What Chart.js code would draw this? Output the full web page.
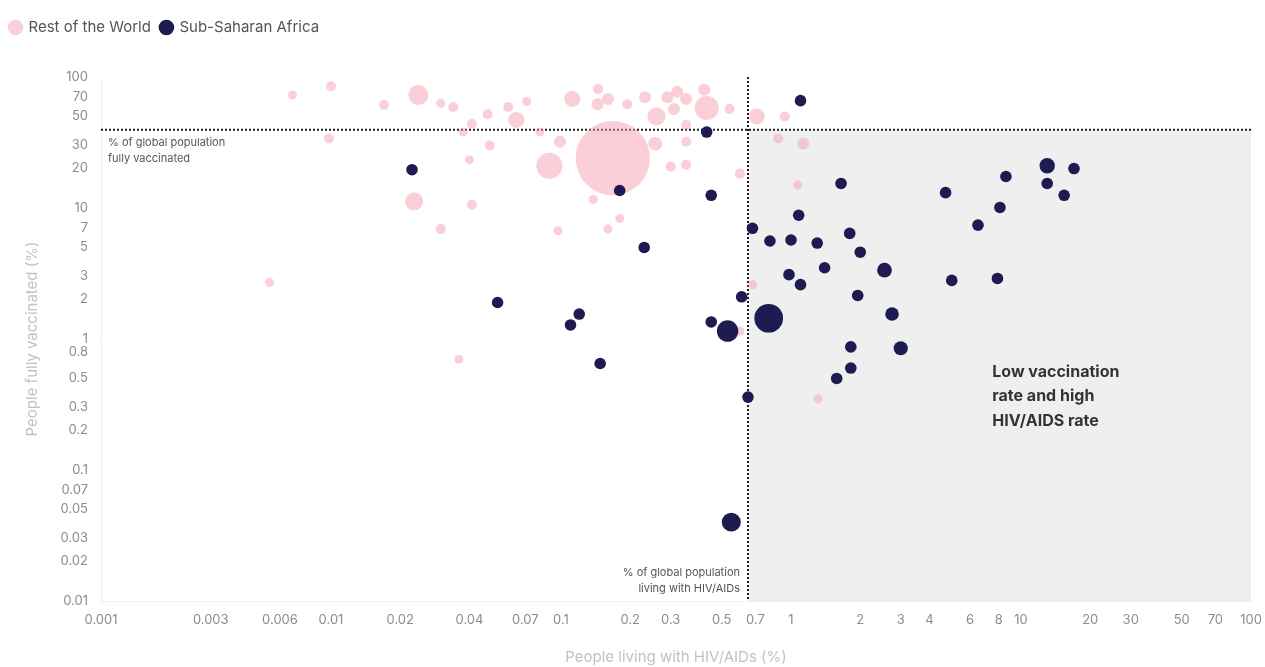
<!DOCTYPE html>
<html>
<head>
<meta charset="utf-8">
<script src="https://cdn.jsdelivr.net/npm/chart.js@4.4.1/dist/chart.umd.min.js"></script>
<style>
    html, body { margin: 0; padding: 0; background: #ffffff; }
    #wrap { position: relative; width: 1265px; height: 667px; }
</style>
</head>
<body>
<div id="wrap"><canvas id="hivChart"></canvas></div>
<script>
// Rest of the World: HIV/AIDS rate (%), fully vaccinated (%), population (millions)
const rowHiv = [0.0068, 0.01, 0.024, 0.017, 0.030, 0.034, 0.0098, 0.0375, 0.023, 0.030,
    0.040, 0.041, 0.041, 0.048, 0.049, 0.059, 0.064, 0.071, 0.081, 0.089,
    0.099, 0.112, 0.145, 0.144, 0.16, 0.194, 0.232, 0.26, 0.168, 0.138,
    0.18, 0.16, 0.097, 0.29, 0.32, 0.31, 0.35, 0.42, 0.43, 0.54,
    0.35, 0.257, 0.35, 0.30, 0.35, 0.60, 0.71, 0.94, 0.88, 1.13,
    1.07, 0.0054, 0.036, 0.68, 0.60, 1.31];
const rowVax = [73, 85, 73, 61, 63, 59, 34, 38, 11.2, 6.9,
    23.4, 10.6, 44, 52, 30, 59, 47, 65, 38, 21,
    32, 68, 81, 62, 68, 62, 70, 50, 24, 11.6,
    8.3, 6.9, 6.7, 70, 77, 57, 68, 80, 58, 57,
    43, 31, 32, 20.7, 21.4, 18.3, 50, 50, 34, 31,
    15, 2.7, 0.7, 2.6, 1.15, 0.35];
const rowPop = [10, 25, 100, 25, 10, 25, 25, 10, 81, 25,
    10, 25, 25, 25, 25, 25, 64, 10, 10, 170,
    36, 64, 25, 36, 36, 25, 36, 81, 1380, 10,
    10, 10, 10, 36, 36, 36, 36, 36, 144, 25,
    25, 49, 25, 25, 25, 25, 64, 25, 25, 36,
    10, 10, 10, 10, 10, 10];

// Sub-Saharan Africa
const ssaHiv = [1.1, 0.43, 0.0225, 0.18, 0.45, 1.08, 0.68, 0.23, 0.81, 1.0,
    1.3, 0.98, 1.1, 0.61, 0.053, 0.12, 0.11, 0.45, 0.53, 0.80,
    13, 17, 8.6, 13, 15.4, 1.65, 4.7, 8.1, 6.5, 1.8,
    2.0, 1.4, 2.55, 5.0, 7.9, 1.95, 2.75, 1.82, 3.0, 1.82,
    1.58, 0.148, 0.65, 0.55];
const ssaVax = [66, 38, 19.6, 13.6, 12.5, 8.8, 7.0, 5.0, 5.6, 5.7,
    5.4, 3.1, 2.6, 2.1, 1.9, 1.55, 1.28, 1.35, 1.15, 1.44,
    21, 20, 17.4, 15.4, 12.5, 15.4, 13.1, 10.1, 7.4, 6.4,
    4.6, 3.5, 3.35, 2.8, 2.9, 2.15, 1.55, 0.87, 0.85, 0.6,
    0.5, 0.65, 0.36, 0.04];
const ssaPop = [1, 1.3, 0.1, 12, 2, 2.4, 1, 6, 9, 13,
    20, 8, 20, 27, 2, 12, 30, 16, 115, 206,
    59, 2.3, 2.1, 1.2, 2.5, 17, 18, 24, 13, 27,
    26, 19, 54, 6, 2.1, 19, 46, 12, 50, 5,
    8, 16, 4.8, 90];

// global reference values
const globalHiv = 0.65;
const globalVax = 39.5;

const xTickLabels = ['0.001', '0.003', '0.006', '0.01', '0.02', '0.04', '0.07', '0.1', '0.2', '0.3',
    '0.5', '0.7', '1', '2', '3', '4', '6', '8', '10', '20', '30', '50', '70', '100'];
const yTickLabels = ['100', '70', '50', '30', '20', '10', '7', '5', '3', '2', '1', '0.8', '0.5',
    '0.3', '0.2', '0.1', '0.07', '0.05', '0.03', '0.02', '0.01'];

const FONT = 'Inter, "Noto Sans", sans-serif';

function toBubbles(xs, ys, pops, minR) {
    return xs.map((x, i) => ({ x: x, y: ys[i], r: Math.max(minR, Math.sqrt(pops[i])) }));
}

// extra space under the legend
const legendMargin = {
    id: 'legendMargin',
    beforeInit(chart) {
        const fit = chart.legend.fit;
        chart.legend.fit = function () {
            fit.bind(chart.legend)();
            this.height += 32;
        };
    }
};

// grey quadrant, dotted reference lines and notes
const quadrant = {
    id: 'quadrant',
    beforeDatasetsDraw(chart) {
        const { ctx, chartArea: a, scales: { x, y } } = chart;
        const vx = x.getPixelForValue(globalHiv);
        const hy = y.getPixelForValue(globalVax);
        ctx.save();
        ctx.fillStyle = '#efefef';
        ctx.fillRect(vx, hy, a.right - vx, a.bottom - hy);

        ctx.strokeStyle = '#1a1a1a';
        ctx.lineWidth = 2;
        ctx.setLineDash([2, 2]);
        ctx.beginPath();
        ctx.moveTo(a.left, hy);
        ctx.lineTo(a.right, hy);
        ctx.moveTo(vx, a.top);
        ctx.lineTo(vx, a.bottom);
        ctx.stroke();
        ctx.restore();
    },
    afterDatasetsDraw(chart) {
        const { ctx, chartArea: a, scales: { x, y } } = chart;
        const vx = x.getPixelForValue(globalHiv);
        const hy = y.getPixelForValue(globalVax);
        ctx.save();
        ctx.fillStyle = '#555555';
        ctx.font = '11px ' + FONT;
        ctx.textBaseline = 'middle';
        ctx.textAlign = 'left';
        ctx.fillText('% of global population', a.left + 7, hy + 13);
        ctx.fillText('fully vaccinated', a.left + 7, hy + 29);
        ctx.textAlign = 'right';
        ctx.fillText('% of global population', vx - 8, a.bottom - 28);
        ctx.fillText('living with HIV/AIDs', vx - 8, a.bottom - 12);

        ctx.fillStyle = '#333333';
        ctx.font = 'bold 16px ' + FONT;
        ctx.textAlign = 'left';
        const tx = x.getPixelForValue(7.5);
        const ty = y.getPixelForValue(0.56);
        ctx.fillText('Low vaccination', tx, ty);
        ctx.fillText('rate and high', tx, ty + 24.5);
        ctx.fillText('HIV/AIDS rate', tx, ty + 49);
        ctx.restore();
    }
};

new Chart(document.getElementById('hivChart'), {
    type: 'bubble',
    data: {
        datasets: [{
            label: 'Rest of the World',
            data: toBubbles(rowHiv, rowVax, rowPop, 4.5),
            backgroundColor: 'rgba(245, 160, 175, 0.5)',
            borderWidth: 0,
            order: 1
        }, {
            label: 'Sub-Saharan Africa',
            data: toBubbles(ssaHiv, ssaVax, ssaPop, 5.8),
            backgroundColor: '#1d1b4f',
            borderWidth: 0,
            order: 0
        }]
    },
    options: {
        responsive: true,
        maintainAspectRatio: false,
        animation: false,
        events: [],
        layout: { autoPadding: false, padding: { top: 10, left: 0, right: 14, bottom: 0 } },
        plugins: {
            legend: {
                position: 'top',
                align: 'start',
                labels: {
                    usePointStyle: true,
                    pointStyle: 'circle',
                    boxWidth: 11,
                    boxHeight: 11,
                    padding: 10,
                    color: '#555555',
                    font: { size: 15, family: FONT },
                    sort: (a, b) => a.datasetIndex - b.datasetIndex
                }
            },
            tooltip: { enabled: false }
        },
        scales: {
            x: {
                type: 'logarithmic',
                min: 0.001,
                max: 100,
                grid: { display: false, drawTicks: false },
                border: { display: true, color: '#f0f0f0' },
                afterBuildTicks: (scale) => {
                    scale.ticks = xTickLabels.map(t => ({ value: Number(t) }));
                },
                afterFit: (scale) => {
                    scale.height = 66;
                    scale.paddingLeft = 0;
                    scale.paddingRight = 0;
                },
                ticks: {
                    autoSkip: false,
                    maxRotation: 0,
                    padding: 11,
                    color: '#8c8c8c',
                    font: { size: 13, family: FONT },
                    callback: (value, index) => xTickLabels[index]
                },
                title: {
                    display: true,
                    text: 'People living with HIV/AIDs (%)',
                    color: '#c2c2c2',
                    font: { size: 15, family: FONT },
                    padding: { top: 0, bottom: 1 }
                }
            },
            y: {
                type: 'logarithmic',
                min: 0.01,
                max: 100,
                grid: { display: false, drawTicks: false },
                border: { display: true, color: '#f0f0f0' },
                afterBuildTicks: (scale) => {
                    scale.ticks = yTickLabels.map(t => ({ value: Number(t) }));
                },
                afterFit: (scale) => { scale.width = 101; },
                ticks: {
                    autoSkip: false,
                    padding: 13,
                    color: '#8c8c8c',
                    font: { size: 13, family: FONT },
                    callback: (value, index) => yTickLabels[index]
                },
                title: {
                    display: true,
                    text: 'People fully vaccinated (%)',
                    color: '#c2c2c2',
                    font: { size: 15, family: FONT },
                    padding: { top: 23, bottom: 0 }
                }
            }
        }
    },
    plugins: [legendMargin, quadrant]
});
</script>
</body>
</html>
